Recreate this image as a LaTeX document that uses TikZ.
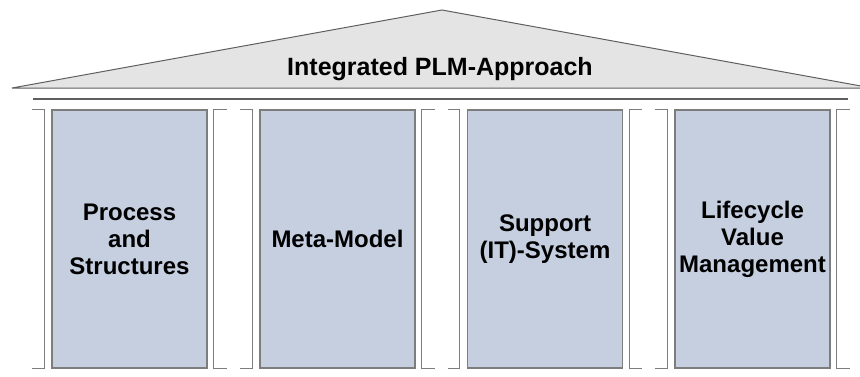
\documentclass[tikz,border=0pt]{standalone}
\usepackage{fontspec}
\setmainfont{Liberation Sans}
\begin{document}
\definecolor{pillarfill}{RGB}{197,207,224}
\definecolor{pillarline}{RGB}{125,125,125}
\definecolor{roofedge}{RGB}{95,95,95}
\definecolor{rooffill}{RGB}{228,228,228}
\begin{tikzpicture}[x=1pt,y=-1pt,
  pillar/.style={draw=pillarline, line width=1.3pt, fill=pillarfill, rectangle,
    minimum width=155pt, minimum height=258pt, inner sep=0pt, align=center,
    font=\fontsize{24}{27}\selectfont\bfseries},
  bracket/.style={draw=pillarline, line width=1.1pt},
  roof/.style={draw=roofedge, line width=1pt, fill=rooffill},
  title/.style={font=\fontsize{25}{28}\selectfont\bfseries, inner sep=0pt}]
\useasboundingbox (0,0) rectangle (860,376);
\clip (0,0) rectangle (860,376);
% roof
\draw[roof] (12,88) coordinate (rl) -- (442,10) coordinate (apex) -- (872,88) coordinate (rr) -- cycle;
\node[title, anchor=base] (t) at (440,75) {Integrated PLM-Approach};
% lintel
\coordinate (ll) at (33,99);
\coordinate (lr) at (848,99);
\draw[draw=roofedge, line width=1.1pt] (ll) -- (lr);
% pillars
\node[pillar] (p1) at (129.5,239) {Process\\and\\Structures};
\node[pillar] (p2) at (337.5,239) {Meta-Model};
\node[pillar] (p3) at (545,239) {Support\\(IT)-System};
\node[pillar] (p4) at (752.5,239) {Lifecycle\\Value\\Management};
% brackets
\foreach \p in {p1,p2,p3,p4}{
  \draw[bracket] ([xshift=-19pt]\p.north west) -- ([xshift=-7pt]\p.north west)
    -- ([xshift=-7pt]\p.south west) -- ([xshift=-19pt]\p.south west);
  \draw[bracket] ([xshift=19pt]\p.north east) -- ([xshift=6pt]\p.north east)
    -- ([xshift=6pt]\p.south east) -- ([xshift=19pt]\p.south east);
}
\end{tikzpicture}
\end{document}
